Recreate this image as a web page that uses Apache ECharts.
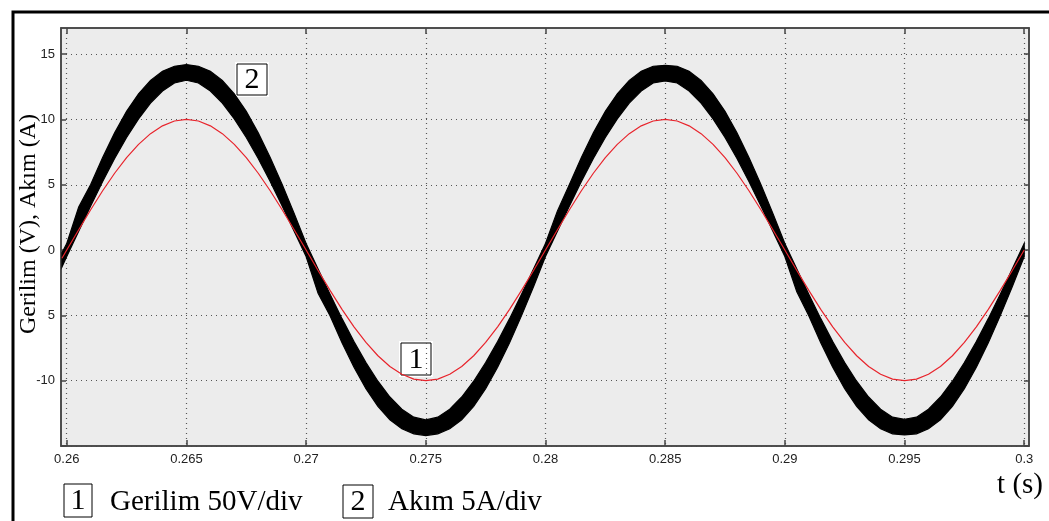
<!DOCTYPE html>
<html>
<head>
<meta charset="utf-8">
<script src="https://cdn.jsdelivr.net/npm/echarts@6/dist/echarts.min.js"></script>
<style>
  html, body { margin: 0; padding: 0; background: #fff; }
  #chart { width: 1049px; height: 521px; }
</style>
</head>
<body>
<div id="chart"></div>
<script>
// sample times (s)
const times = [
  0.2598,
  0.2600, 0.2605, 0.2610, 0.2615, 0.2620, 0.2625, 0.2630, 0.2635, 0.2640, 0.2645,
  0.2650, 0.2655, 0.2660, 0.2665, 0.2670, 0.2675, 0.2680, 0.2685, 0.2690, 0.2695,
  0.2700, 0.2705, 0.2710, 0.2715, 0.2720, 0.2725, 0.2730, 0.2735, 0.2740, 0.2745,
  0.2750, 0.2755, 0.2760, 0.2765, 0.2770, 0.2775, 0.2780, 0.2785, 0.2790, 0.2795,
  0.2800, 0.2805, 0.2810, 0.2815, 0.2820, 0.2825, 0.2830, 0.2835, 0.2840, 0.2845,
  0.2850, 0.2855, 0.2860, 0.2865, 0.2870, 0.2875, 0.2880, 0.2885, 0.2890, 0.2895,
  0.2900, 0.2905, 0.2910, 0.2915, 0.2920, 0.2925, 0.2930, 0.2935, 0.2940, 0.2945,
  0.2950, 0.2955, 0.2960, 0.2965, 0.2970, 0.2975, 0.2980, 0.2985, 0.2990, 0.2995,
  0.3000
]

// voltage (red, 50V/div)
const voltage = [
  -0.63,
  0, 1.56, 3.09, 4.54, 5.88, 7.07, 8.09, 8.91, 9.51, 9.88,
  10, 9.88, 9.51, 8.91, 8.09, 7.07, 5.88, 4.54, 3.09, 1.56,
  0, -1.56, -3.09, -4.54, -5.88, -7.07, -8.09, -8.91, -9.51, -9.88,
  -10, -9.88, -9.51, -8.91, -8.09, -7.07, -5.88, -4.54, -3.09, -1.56,
  0, 1.56, 3.09, 4.54, 5.88, 7.07, 8.09, 8.91, 9.51, 9.88,
  10, 9.88, 9.51, 8.91, 8.09, 7.07, 5.88, 4.54, 3.09, 1.56,
  0, -1.56, -3.09, -4.54, -5.88, -7.07, -8.09, -8.91, -9.51, -9.88,
  -10, -9.88, -9.51, -8.91, -8.09, -7.07, -5.88, -4.54, -3.09, -1.56,
  0
]

// current (black, 5A/div) - upper and lower edge of the ripple band
const currentUpper = [
  -0.2,
  0.5, 3.3, 5.02, 7.09, 8.97, 10.62, 11.96, 12.99, 13.68, 14.07,
  14.2, 14.07, 13.68, 12.99, 11.96, 10.62, 8.97, 7.09, 5.02, 2.81,
  0.5, -1.45, -3.38, -5.25, -7.01, -8.62, -10.04, -11.25, -12.18, -12.79,
  -13.0, -12.79, -12.18, -11.25, -10.04, -8.62, -7.01, -5.25, -3.38, -1.45,
  0.5, 3.0, 5.02, 7.09, 8.97, 10.62, 11.96, 12.99, 13.68, 14.07,
  14.15, 14.07, 13.68, 12.99, 11.96, 10.62, 8.97, 7.09, 5.02, 2.81,
  0.5, -1.45, -3.38, -5.25, -7.01, -8.62, -10.04, -11.25, -12.18, -12.79,
  -12.95, -12.79, -12.18, -11.25, -10.04, -8.62, -7.01, -5.25, -3.38, -1.45,
  0.5
]
const currentLower = [
  -1.3,
  -0.5, 1.45, 3.38, 5.25, 7.01, 8.62, 10.04, 11.25, 12.18, 12.79,
  13.0, 12.79, 12.18, 11.25, 10.04, 8.62, 7.01, 5.25, 3.38, 1.45,
  -0.5, -3.3, -5.02, -7.09, -8.97, -10.62, -11.96, -12.99, -13.68, -14.07,
  -14.2, -14.07, -13.68, -12.99, -11.96, -10.62, -8.97, -7.09, -5.02, -2.81,
  -0.5, 1.45, 3.38, 5.25, 7.01, 8.62, 10.04, 11.25, 12.18, 12.79,
  12.95, 12.79, 12.18, 11.25, 10.04, 8.62, 7.01, 5.25, 3.38, 1.45,
  -0.5, -3.2, -5.02, -7.09, -8.97, -10.62, -11.96, -12.99, -13.68, -14.07,
  -14.15, -14.07, -13.68, -12.99, -11.96, -10.62, -8.97, -7.09, -5.02, -2.81,
  -0.5
]

const xTicks = [0.26, 0.265, 0.27, 0.275, 0.28, 0.285, 0.29, 0.295, 0.3]
const xTickLabels = ['0.26', '0.265', '0.27', '0.275', '0.28', '0.285', '0.29', '0.295', '0.3']
const yTicks = [-15, -10, -5, 0, 5, 10, 15]
const yTickLabels = ['', '-10', '5', '0', '5', '10', '15']

const serif = '"Liberation Serif", "DejaVu Serif", serif'
const sans = '"Liberation Sans", Arial, sans-serif'
const axisColor = '#444'

const chart = echarts.init(document.getElementById('chart'), null, { renderer: 'canvas' })

function boxLabel(x, y, w, h, text) {
  return {
    type: 'group',
    x: x,
    y: y,
    children: [
      { type: 'rect', shape: { x: -2, y: -2, width: w + 4, height: h + 4 }, style: { fill: '#fff' } },
      { type: 'rect', shape: { x: 0, y: 0, width: w, height: h }, style: { fill: '#fff', stroke: '#000', lineWidth: 1 } },
      {
        type: 'text', x: w / 2, y: h / 2 + 1,
        style: { text: text, font: '30px ' + serif, fill: '#000', textAlign: 'center', textVerticalAlign: 'middle' },
      },
    ],
  }
}

// ripple band of the current: upper edge forward, lower edge back
function renderBand(params, api) {
  const pts = []
  for (let i = 0; i < times.length; i++) pts.push(api.coord([times[i], currentUpper[i]]))
  for (let i = times.length - 1; i >= 0; i--) pts.push(api.coord([times[i], currentLower[i]]))
  return {
    type: 'polygon',
    shape: { points: pts },
    style: { fill: '#000', stroke: '#000', lineWidth: 1.2 },
  }
}

const baseX = {
  type: 'value',
  min: 0.25976,
  max: 0.3002,
  axisLine: { show: true, onZero: false, lineStyle: { color: axisColor, width: 1.5 } },
  axisTick: { show: true, inside: true, length: 6, customValues: xTicks, lineStyle: { color: axisColor, width: 1.5 } },
}
const baseY = {
  type: 'value',
  min: -15,
  max: 17,
  axisLine: { show: true, onZero: false, lineStyle: { color: axisColor, width: 1.5 } },
  axisTick: { show: true, inside: true, length: 5, customValues: yTicks, lineStyle: { color: axisColor, width: 1.5 } },
}
const gridLine = { show: true, lineStyle: { color: '#555', type: [1, 4], width: 1.2 } }

chart.setOption({
  animation: false,
  backgroundColor: '#fff',
  grid: { left: 61, right: 20, top: 28, bottom: 75, show: true, backgroundColor: '#ececec', borderColor: axisColor, borderWidth: 1.5 },
  xAxis: [
    Object.assign({}, baseX, {
      position: 'bottom',
      axisLabel: {
        customValues: xTicks,
        margin: 7,
        color: '#222',
        fontFamily: sans,
        fontSize: 13,
        formatter: v => xTickLabels[xTicks.indexOf(v)],
      },
      splitLine: gridLine,
    }),
    Object.assign({}, baseX, { position: 'top', axisLabel: { show: false }, splitLine: { show: false } }),
  ],
  yAxis: [
    Object.assign({}, baseY, {
      position: 'left',
      axisLabel: {
        customValues: yTicks,
        margin: 6,
        color: '#222',
        fontFamily: sans,
        fontSize: 13,
        formatter: v => yTickLabels[yTicks.indexOf(v)],
      },
      splitLine: gridLine,
    }),
    Object.assign({}, baseY, { position: 'right', axisLabel: { show: false }, splitLine: { show: false } }),
  ],
  series: [
    {
      name: 'Akım',
      type: 'custom',
      coordinateSystem: 'cartesian2d',
      data: [[times[0], currentUpper[0]]],
      renderItem: renderBand,
      clip: true,
    },
    {
      name: 'Gerilim',
      type: 'line',
      data: times.map((t, i) => [t, voltage[i]]),
      symbol: 'none',
      lineStyle: { color: '#e8242c', width: 1.2 },
    },
  ],
  graphic: [
    // outer frame
    { type: 'rect', shape: { x: 13, y: 12, width: 1100, height: 600 }, style: { fill: 'none', stroke: '#000', lineWidth: 3 }, z: 100 },
    {
      type: 'text', x: 29, y: 224, rotation: Math.PI / 2,
      style: { text: 'Gerilim (V), Akım (A)', font: '24px ' + serif, fill: '#000', textAlign: 'center', textVerticalAlign: 'middle' },
    },
    boxLabel(237, 64, 30, 31, '2'),
    boxLabel(401, 343, 30, 32, '1'),
    boxLabel(64, 484, 28, 33, '1'),
    { type: 'text', x: 110, y: 502, style: { text: 'Gerilim 50V/div', font: '29px ' + serif, fill: '#000', textVerticalAlign: 'middle' } },
    boxLabel(343, 485, 30, 33, '2'),
    { type: 'text', x: 388, y: 502, style: { text: 'Akım 5A/div', font: '29px ' + serif, fill: '#000', textVerticalAlign: 'middle' } },
    { type: 'text', x: 1043, y: 485, style: { text: 't (s)', font: '29px ' + serif, fill: '#000', textAlign: 'right', textVerticalAlign: 'middle' } },
  ],
})

window.addEventListener('resize', () => chart.resize())
</script>
</body>
</html>
